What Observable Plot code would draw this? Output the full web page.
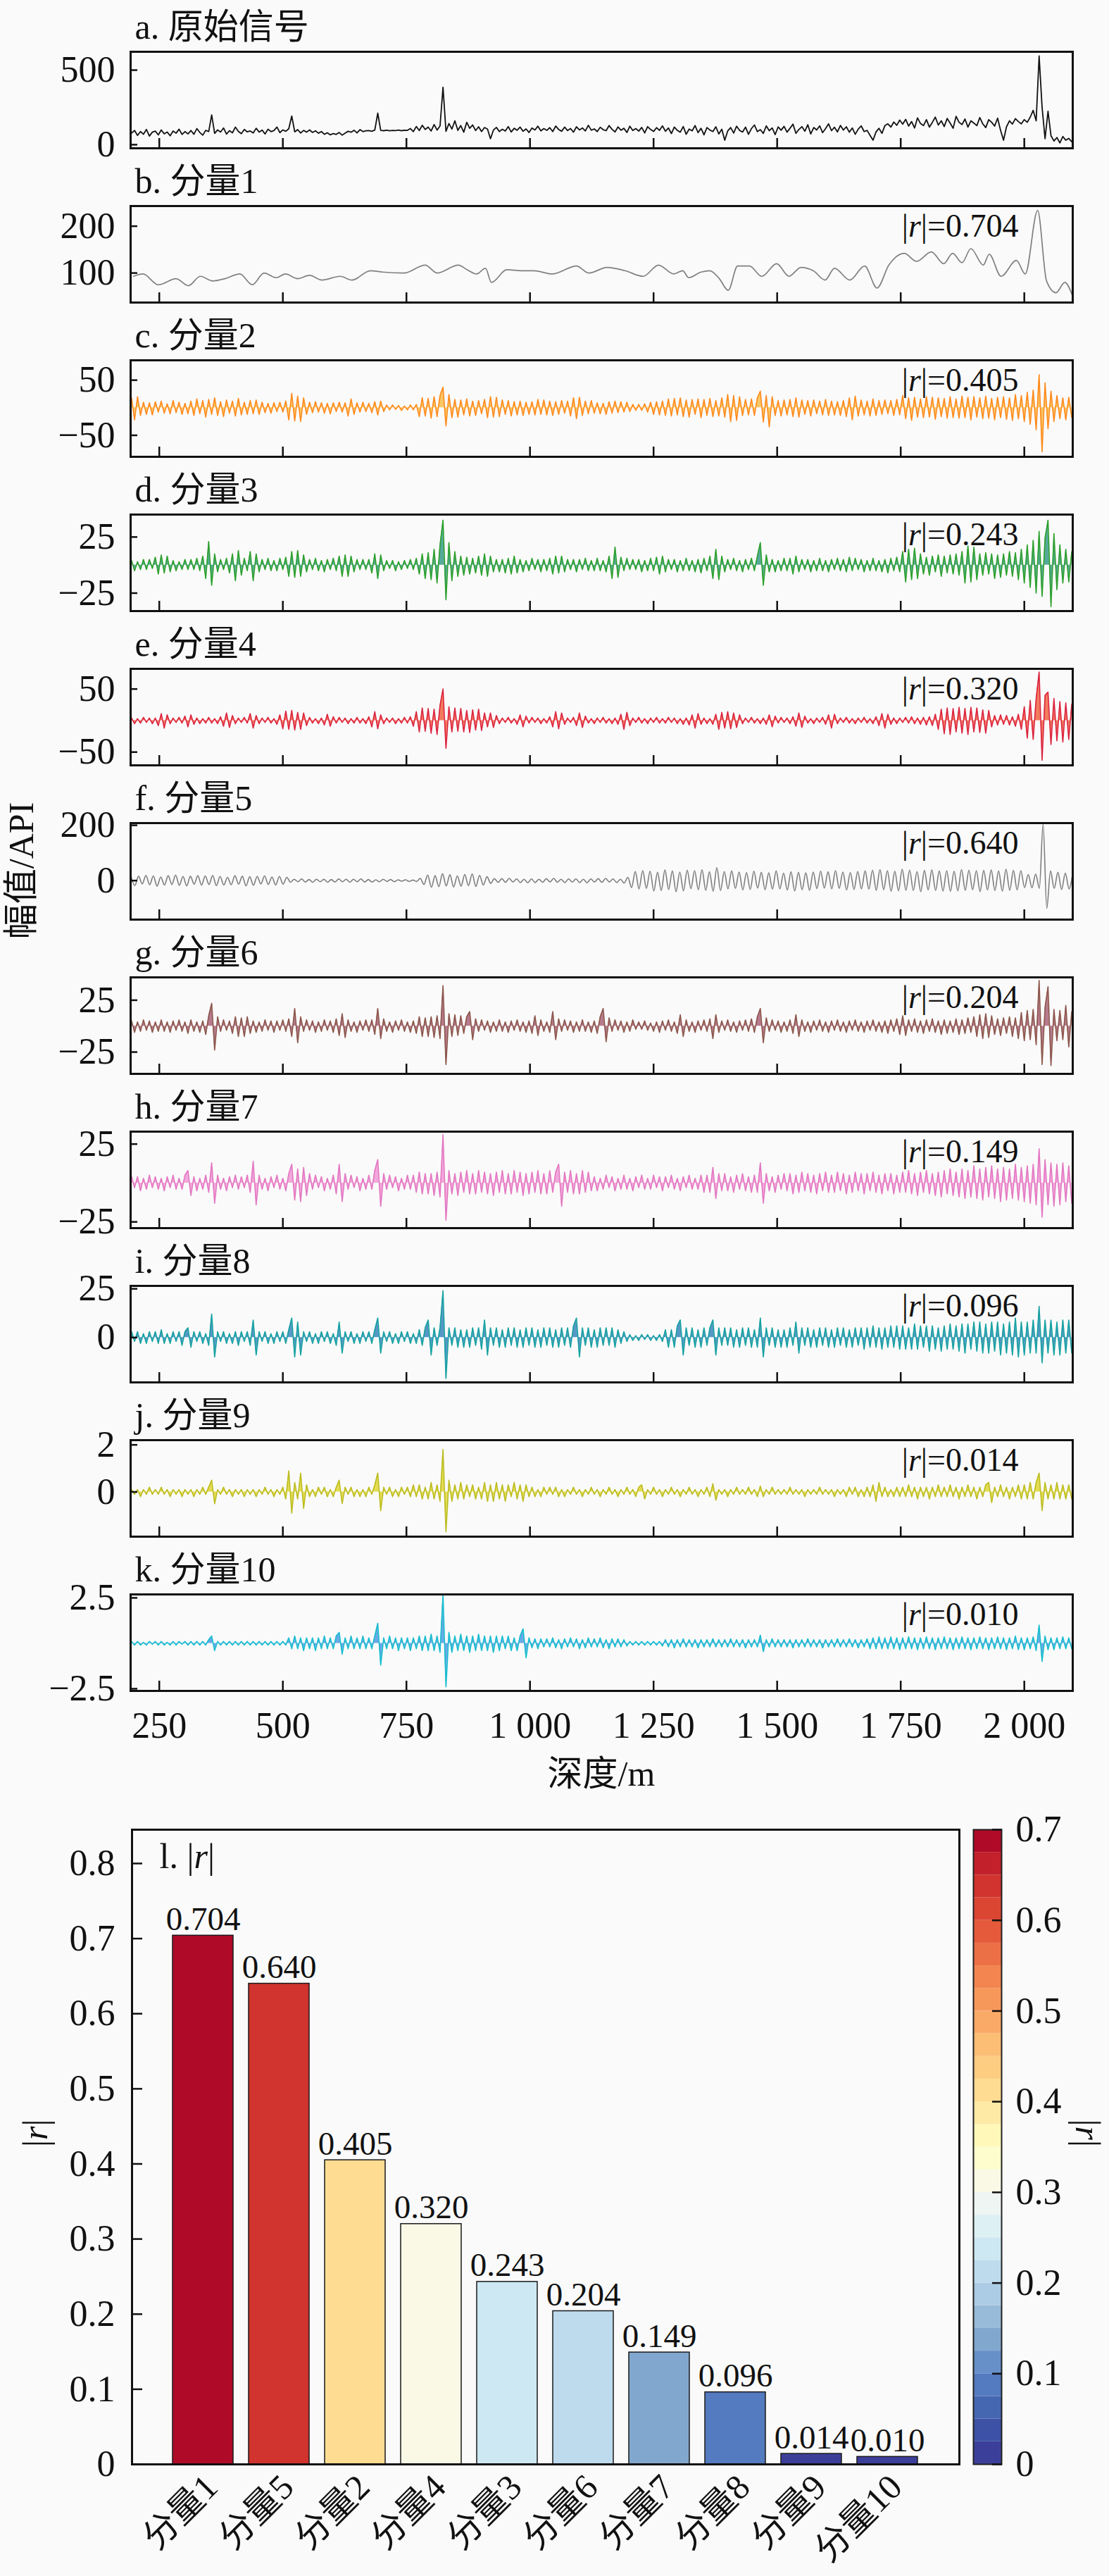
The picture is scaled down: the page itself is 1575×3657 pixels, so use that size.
<!DOCTYPE html>
<html><head><meta charset="utf-8">
<script src="https://cdn.jsdelivr.net/npm/d3@7"></script>
<script src="https://cdn.jsdelivr.net/npm/@observablehq/plot@0.6"></script>
<style>
html,body{margin:0;padding:0;background:#fafafa;}
#root{position:relative;width:1575px;height:3657px;overflow:hidden;font-family:'Liberation Serif','Times New Roman','Noto Sans CJK SC',serif;color:#111;}
#root svg{position:absolute;left:0;overflow:visible;}
.lbl{position:absolute;white-space:nowrap;font-size:50px;line-height:1;}
</style>
</head><body><div id="root"></div>
<script>
// ---------- depth axis ----------
const depthDomain = [192, 2098];
const depthTicks = [250, 500, 750, 1000, 1250, 1500, 1750, 2000];
const depthTickLabels = ["250", "500", "750", "1 000", "1 250", "1 500", "1 750", "2 000"];
// regular sampling grid of the dense traces (m)
const gridStart = 194, gridStep = 6;
// sampling grid of component 5 (m)
const fGridStart = 193, fGridStep = 7.5;

// ---------- panel meta ----------
const panelTitles = ["a. 原始信号","b. 分量1","c. 分量2","d. 分量3","e. 分量4","f. 分量5","g. 分量6","h. 分量7","i. 分量8","j. 分量9","k. 分量10"];
const panelR = [null,"0.704","0.405","0.243","0.320","0.640","0.204","0.149","0.096","0.014","0.010"];
const panelDomains = [[-24,623],[37,243],[-89,86],[-41,45],[-71,82],[-141,208],[-46,47],[-29,33],[-23,26.5],[-1.9,2.2],[-2.62,2.69]];
const panelTicks = [[0,500],[100,200],[-50,50],[-25,25],[-50,50],[0,200],[-25,25],[-25,25],[0,25],[0,2],[-2.5,2.5]];
const panelColors = ["#111111","#808080","#ff8a1c","#2ca02c","#dc2440","#7d7d7d","#8c564b","#e377c2","#17a2a2","#bcbd22","#17becf"];
const panelFills  = [null,null,"#f7b733","#1f8f7a","#f0502a",null,"#a0506a","#f08ccf","#1f77b4","#dcd21a","#3a8ee0"];

// ---------- a. original signal (grid) ----------
const sigA = [78,95,62,88,70,102,58,84,91,66,99,73,85,60,92,77,104,69,88,72,
95,70,108,82,64,96,88,200,76,99,85,112,71,94,80,118,89,74,102,86,
92,79,110,85,98,72,104,88,95,118,81,99,90,107,192,86,101,78,96,84,
99,82,93,77,88,70,80,66,75,69,82,64,78,90,84,97,79,101,88,93,
95,90,98,211,96,94,97,93,96,95,98,94,97,96,108,88,122,95,130,102,
118,92,135,98,126,385,90,142,105,160,96,128,84,150,110,132,95,120,88,115,
105,40,98,116,88,104,92,121,85,110,97,118,90,106,82,112,99,124,93,108,
96,114,88,125,102,90,118,95,108,84,120,99,112,92,130,97,106,88,117,101,
94,128,103,86,119,97,110,82,124,95,108,91,116,79,121,102,89,114,96,126,
90,112,75,118,96,84,122,70,105,93,128,81,110,66,115,98,88,120,72,104,
30,92,115,78,124,96,85,118,70,108,132,88,101,76,126,94,112,68,119,97,
123,84,110,138,76,102,121,90,134,72,115,99,126,81,108,140,94,117,86,129,
98,120,84,112,70,104,126,88,96,62,30,85,110,76,128,140,118,152,130,165,
138,170,125,155,112,180,142,128,168,118,150,185,132,160,122,176,145,110,190,150,
135,172,118,160,145,128,182,140,115,168,150,125,178,96,30,120,160,138,175,155,
140,168,150,185,230,160,595,250,40,224,60,25,48,12,55,30,42,20];

// ---------- b. component 1 (extrema) ----------
const comp1Depth = [198,217,248,284,309,333,358,383,413,438,462,487,505,530,554,579,616,640,677,702,745,788,812,855,873,892,910,922,953,984,1008,1045,1094,1119,1156,1192,1229,1260,1291,1309,1321,1346,1364,1383,1401,1420,1444,1469,1499,1524,1548,1573,1597,1616,1647,1677,1702,1726,1757,1782,1812,1837,1855,1874,1892,1917,1929,1953,1984,2002,2027,2045,2064,2082,2098];
const comp1Value = [93,98,75,88,73,93,83,88,98,75,100,90,98,88,95,85,93,85,105,102,100,117,100,117,107,98,110,80,107,105,105,98,115,100,112,105,93,117,98,105,90,102,105,88,63,115,115,93,120,93,112,105,85,110,85,115,68,117,142,125,145,120,142,122,152,117,140,93,127,98,234,83,58,80,50];

// ---------- c. component 2 ----------
const comp2 = [18,-22,20,-14,10,-12,9,-13,11,-8,12,-10,7,-11,13,-9,10,-12,8,-11,
12,-14,16,-11,13,-17,15,-12,18,-14,11,-16,14,-10,12,-15,17,-13,10,-12,
13,-11,14,-12,10,-9,8,-10,9,-7,10,-8,12,-22,26,-24,21,-25,18,-12,
10,-9,11,-8,9,-10,8,-11,9,-7,10,-8,9,-15,16,-12,9,-8,10,-7,
8,-9,11,-13,12,-7,5,-4,5,-3,4,-5,3,-4,5,-4,6,-16,18,-15,
17,-19,20,-16,22,37,-33,24,-18,15,-17,14,-13,16,-15,12,-14,13,-11,15,
-18,20,-17,19,-16,14,-12,13,-15,11,-13,12,-14,10,-12,11,-13,15,-12,14,
-13,12,-14,11,-12,13,-10,12,-15,18,-20,19,-14,12,-11,13,-10,9,-11,8,
-12,11,-10,12,-9,11,-8,10,-7,6,-5,6,-5,7,-8,10,-12,11,-13,12,
-14,16,-15,17,-13,18,-16,14,-17,15,-12,16,-18,15,-14,17,-16,13,-15,18,
-17,24,-25,22,-23,20,-14,15,-13,16,-14,18,30,-26,22,-35,20,-14,13,-15,
14,-13,15,-16,18,-17,14,-12,13,-15,14,-11,12,-13,15,-14,12,-13,11,-14,
13,-16,18,-22,21,-15,14,-13,12,-15,16,-14,13,-12,14,-11,13,-14,15,-13,
22,-20,18,-23,19,-17,16,-18,20,-17,19,-21,18,-16,17,-19,20,-18,16,-19,
21,-18,19,-22,20,-17,18,-20,21,-19,17,-22,19,-18,20,-21,18,-23,24,-20,
22,-25,28,-30,32,-40,60,-80,45,-38,30,-25,22,-20,18,-22,19,-18];

// ---------- d. component 3 ----------
const comp3 = [4,-5,3,-4,5,-4,5,-3,7,-8,9,-7,8,-6,4,-5,3,-4,5,-4,
5,-4,6,-5,8,-12,21,-18,10,-6,5,-4,6,-7,10,-14,13,-9,6,-5,
12,-14,10,-6,5,-4,6,-5,4,-5,6,-4,7,-10,12,-11,13,-10,9,-6,
5,-4,6,-5,4,-6,5,-4,6,-5,8,-10,9,-10,8,-6,5,-4,5,-4,
5,-7,10,-12,9,-5,4,-3,4,-5,3,-4,4,-3,5,-4,6,-8,10,-12,
11,-13,14,-16,18,40,-31,20,-14,12,-10,8,-9,7,-8,6,-7,8,-9,10,
-10,8,-6,5,-6,5,-7,6,-8,8,-7,5,-6,4,-5,6,-4,5,-6,5,
-5,6,-8,8,-7,8,-6,5,-4,5,-6,5,-4,6,-5,4,-5,6,-5,4,
-6,8,-12,16,-11,7,-5,6,-4,5,-4,5,-6,4,-5,6,-5,7,-8,8,
-6,5,-4,5,-6,4,-5,6,-5,4,-6,5,-7,6,-5,8,-12,14,-13,8,
-6,5,-4,6,-5,4,-6,5,-4,6,-5,8,20,-18,9,-6,5,-6,4,-5,
6,-5,6,-8,8,-6,5,-4,5,-6,4,-5,6,-5,4,-6,5,-4,6,-5,
5,-6,7,-5,6,-4,5,-6,4,-5,6,-5,4,-6,5,-7,6,-5,7,-6,
12,-15,14,-13,15,-12,10,-8,7,-9,8,-6,9,-10,8,-7,9,-8,10,-9,
12,-16,17,-15,16,-13,10,-9,11,-8,10,-12,9,-11,10,-9,12,-10,11,-13,
14,-16,18,-20,22,-25,30,-28,24,40,-37,28,-22,18,-16,14,-15,12];

// ---------- e. component 4 ----------
const comp4 = [4,-5,3,-4,5,-3,4,-5,4,-8,11,-12,9,-5,4,-3,5,-4,7,-10,
9,-6,4,-5,3,-4,5,-4,3,-5,6,-9,12,-11,8,-5,4,-3,5,-4,
11,-12,8,-5,4,-3,5,-4,3,-6,9,-13,15,-14,16,-15,13,-14,12,-8,
5,-4,3,-5,4,-7,10,-9,6,-4,5,-3,4,-5,3,-4,5,-4,3,-5,
6,-10,14,-13,9,-5,4,-3,4,-5,3,-4,5,-4,6,-9,14,-18,20,-17,
19,-20,18,-22,24,50,-44,22,-18,20,-17,19,-18,16,-19,17,-15,18,-16,12,
-10,12,-11,8,-5,4,-3,5,-4,3,-6,9,-10,7,-4,5,-3,4,-5,3,
-4,6,-10,14,-13,12,-6,4,-3,5,-8,12,-11,7,-4,3,-5,4,-3,5,
-4,3,-5,4,-6,10,-14,13,-8,4,-3,5,-4,3,-5,4,-3,5,-4,3,
-4,5,-3,4,-5,3,-6,4,-7,9,-12,11,-6,4,-5,3,-6,10,-14,13,
-12,14,-13,12,-11,9,-5,4,-3,5,-4,3,-5,4,-6,9,-10,7,-4,5,
-3,4,-5,6,-9,12,-11,7,-4,3,-5,4,-3,5,-6,9,-12,10,-5,4,
-3,5,-4,3,-5,4,-3,5,-4,3,-5,6,-8,11,-12,10,-6,4,-5,4,
-3,5,-4,6,-5,4,-6,5,-7,6,-8,10,-14,18,-21,20,-22,19,-18,21,
-20,19,-22,21,-18,20,-19,17,-20,16,-10,8,-7,9,-6,8,-7,6,-9,10,
-14,22,-28,32,-30,35,77,-63,40,45,-38,35,-32,30,-34,28,-30,26];

// ---------- f. component 5 (f grid) ----------
const comp5 = [14,-18,16,-12,19,-15,17,-20,13,-16,18,-14,20,-17,15,-19,16,-13,18,-16,
17,-14,19,-18,15,-16,12,-15,18,-13,16,-19,14,-17,15,-12,17,-14,13,-16,
15,-13,12,-6,5,-4,6,-5,4,-6,5,-4,5,-6,4,-5,6,-4,5,-6,
5,-4,6,-5,4,-5,3,-4,5,-3,4,-4,3,-2,3,-3,2,-3,8,-14,
20,-24,18,-22,25,-19,21,-23,17,-20,22,-18,24,-21,19,-16,14,-10,7,-6,
7,-6,8,-5,6,-7,5,-8,6,-7,5,-6,7,-5,8,-6,5,-7,6,-5,
6,-7,5,-8,6,-5,7,-6,8,-5,6,-7,5,-9,12,-25,33,-30,36,-28,
34,-38,30,-36,39,-32,35,-40,31,-37,38,-29,36,-33,40,-35,32,-38,47,-36,
33,-30,35,-28,31,-34,29,-32,34,-27,30,-33,28,-31,35,-30,27,-34,32,-38,
30,-33,28,-35,31,-29,34,-27,32,-30,36,-28,31,-34,29,-32,33,-30,35,-31,
38,-35,40,-33,36,-39,34,-37,41,-35,38,-36,33,-40,37,-34,39,-36,35,-38,
36,-39,34,-37,40,-35,38,-33,36,-40,37,-34,39,-36,35,-38,41,-35,37,-34,
36,-25,22,-26,24,-28,205,-100,35,-28,30,-32,27,-30,28];

// ---------- g. component 6 ----------
const comp6 = [5,-6,4,-5,6,-4,5,-6,4,-5,6,-5,4,-6,5,-4,6,-5,4,-7,
6,-5,4,-6,5,-8,10,22,-23,9,-5,6,-4,5,-7,9,-10,8,-10,9,
-7,5,-6,4,-5,6,-4,5,-6,5,-4,6,-5,7,-10,17,-16,9,-5,6,
-4,5,-6,4,-5,6,-4,5,-6,7,-9,12,-11,6,-5,4,-6,5,-4,6,
-5,6,-8,17,-12,7,-5,4,-6,5,-4,6,-5,4,-6,5,-7,9,-10,8,
-10,9,-11,10,-12,39,-37,12,-10,11,-9,10,-7,9,14,-13,7,-5,6,-4,
5,-6,4,-5,6,-5,4,-6,5,-4,6,-5,4,-6,5,-7,10,-9,6,-5,
4,-6,14,-13,7,-5,6,-4,5,-6,4,-5,6,-5,4,-6,5,-7,9,17,
-15,8,-5,6,-4,5,-6,4,-5,6,-3,4,-3,5,-4,3,-5,4,-6,5,
-4,6,-5,4,-7,11,-10,6,-5,4,-6,5,-4,6,-5,7,-12,11,-6,5,
-4,6,-5,4,-6,5,-4,6,-5,7,-6,9,17,-16,8,-5,6,-4,5,-6,
4,-5,6,-7,11,-10,6,-5,4,-6,5,-4,6,-5,4,-6,5,-4,6,-5,
4,-6,5,-4,6,-5,4,-6,5,-4,6,-5,4,-6,5,-7,6,-5,7,-8,
10,-9,6,-5,7,-6,5,-7,6,-5,7,-6,5,-8,6,-7,5,-6,7,-8,
6,-7,8,-6,9,-10,11,-12,12,-11,10,-8,7,-9,8,-7,9,-10,8,-12,
13,-14,15,-13,16,-18,44,-37,18,38,-38,16,-14,15,-13,20,-20,14];

// ---------- h. component 7 ----------
const comp7 = [4,-3,4,-5,3,-4,5,-3,4,-4,3,-5,4,-3,5,-4,3,-4,5,8,
-8,4,-5,3,-4,5,-6,13,-13,5,-4,3,-5,4,-3,5,-4,4,-3,5,
-6,14,-14,5,-4,3,-5,4,-3,5,-4,3,-5,6,12,-11,9,-12,10,-8,
6,-4,5,-3,4,-5,3,-4,5,-7,12,-12,6,-4,5,-3,4,-5,3,-4,
5,-4,8,15,-15,6,-4,5,-3,4,-5,3,-4,5,-4,5,-6,7,-7,6,
-7,6,-8,7,-9,31,-24,8,-7,6,-8,7,-6,8,-7,6,-7,8,-6,7,
-7,6,-8,7,-6,8,-7,6,-7,8,-6,7,-8,6,-7,7,-6,8,-7,6,
-7,8,-6,7,12,-15,7,-6,8,-7,6,-7,8,-6,7,-5,4,-5,3,-4,
5,-3,4,-5,3,-4,5,-4,3,-5,4,-3,5,-4,3,-4,5,-3,4,-5,
4,-3,5,-4,3,-5,4,-3,5,-4,3,-4,5,-6,5,-6,10,-10,6,-5,
6,-5,4,-6,5,-4,6,-5,4,-6,5,-6,13,-13,6,-5,4,-6,5,-4,
6,-5,6,-7,5,-6,7,-5,6,-6,5,-7,6,-5,7,-6,5,-6,7,-5,
6,-7,5,-6,7,-5,6,-7,6,-5,7,-6,5,-7,6,-5,6,-7,5,-6,
7,-6,8,-7,6,-8,7,-6,8,-7,6,-8,7,-9,8,-7,9,-8,7,-9,
9,-10,8,-9,11,-10,9,-11,10,-9,11,-10,9,-12,10,-11,9,-10,12,-11,
10,-12,11,-13,12,-14,22,-22,15,-14,13,-15,12,-14,13,-12,11,-13];

// ---------- i. component 8 ----------
const comp8 = [3,-2,3,-3,2,-3,3,-2,3,-3,4,-3,2,-3,3,-2,3,-4,3,5,
-5,3,-2,3,-3,2,-4,12,-10,3,-2,3,-3,2,-3,3,-4,3,-2,3,
-4,9,-9,3,-2,3,-3,2,-3,3,-2,3,-3,4,10,-10,8,-9,3,-2,
3,-3,2,-3,3,-2,3,-3,2,-4,8,-8,3,-2,3,-3,2,-3,3,-2,
3,-3,4,10,-8,3,-2,3,-3,2,-3,3,-2,3,-3,2,-3,4,-4,5,
9,-9,5,-4,5,24,-21,5,-4,5,-5,4,-5,4,-5,5,-4,5,-6,9,
-9,5,-4,5,-5,4,-5,5,-4,5,-5,4,-5,5,-4,5,-5,4,-5,5,
-4,5,-5,4,-5,5,-4,5,-5,6,10,-10,5,-4,5,-5,4,-5,5,-4,
5,-4,5,-5,4,-3,3,-2,1.5,-1.5,1,-1.5,1.5,-1,1.5,-1.5,1,-1.5,1.5,-2,
4,-5,4,-5,6,9,-9,5,-4,5,-5,4,-5,5,-4,5,9,-9,5,-4,
5,-4,5,-5,4,-5,5,-4,5,-5,4,-5,10,-10,5,-4,5,-5,4,-5,
4,-5,5,-4,8,-8,5,-4,5,-5,4,-5,5,-4,5,-5,4,-5,5,-4,
5,-5,4,-5,5,-4,5,-6,5,-5,6,-5,5,-6,5,-5,6,-5,6,-6,
6,-6,5,-6,7,-6,6,-5,6,-7,6,-6,5,-7,6,-6,7,-6,6,-7,
7,-8,7,-6,8,-7,8,-8,7,-8,8,-7,8,-9,7,-8,8,-9,10,-10,
8,-9,8,-8,9,-8,16,-13,9,-8,9,-9,8,-9,9,-8,9,-8];

// ---------- j. component 9 ----------
const comp9 = [0.1,-0.1,0.1,-0.2,0.1,-0.1,0.2,-0.1,0.1,-0.1,0.2,-0.1,0.1,-0.2,0.1,-0.1,0.1,-0.2,0.1,-0.1,
0.1,-0.2,0.1,-0.1,0.2,-0.1,0.2,0.5,-0.5,0.1,-0.1,0.2,-0.1,0.1,-0.2,0.1,-0.1,0.1,-0.2,0.1,
-0.1,0.1,-0.2,0.1,-0.1,0.2,-0.1,0.1,-0.2,0.1,-0.1,0.2,-0.3,0.9,-0.9,0.4,-0.3,0.8,-0.7,0.3,
-0.2,0.1,-0.2,0.2,-0.1,0.2,-0.2,0.1,-0.2,0.2,0.5,-0.5,0.2,-0.1,0.2,-0.2,0.1,-0.2,0.1,-0.2,
0.2,-0.1,0.3,0.8,-0.8,0.2,-0.1,0.2,-0.2,0.1,-0.2,0.2,-0.1,0.2,-0.2,0.3,-0.2,0.3,-0.3,0.2,
-0.3,0.4,-0.3,0.3,-0.4,1.8,-1.7,0.5,-0.4,0.3,-0.3,0.4,-0.3,0.3,-0.2,0.3,-0.3,0.2,-0.3,0.4,
-0.4,0.3,-0.4,0.4,-0.3,0.3,-0.4,0.3,-0.2,0.4,-0.3,0.3,-0.4,0.3,-0.2,0.2,-0.2,0.1,-0.2,0.2,
-0.1,0.2,-0.1,0.2,-0.2,0.1,-0.2,0.1,-0.1,0.2,-0.1,0.1,-0.2,0.1,-0.1,0.2,-0.1,0.1,-0.2,0.1,
-0.1,0.2,-0.1,0.1,-0.2,0.1,-0.1,0.2,-0.1,0.1,-0.2,0.2,0.3,-0.3,0.1,-0.1,0.2,-0.1,0.1,-0.2,
0.1,-0.1,0.2,-0.1,0.1,-0.2,0.1,-0.1,0.2,-0.1,0.1,-0.2,0.1,-0.1,0.2,-0.2,0.35,-0.35,0.1,-0.1,
0.1,-0.2,0.1,-0.1,0.2,-0.1,0.1,-0.1,0.2,-0.1,0.1,-0.2,0.25,-0.2,0.1,-0.1,0.2,-0.1,0.1,-0.1,
0.1,-0.1,0.2,-0.1,0.1,-0.1,0.1,-0.2,0.1,-0.1,0.1,-0.1,0.2,-0.1,0.1,-0.1,0.1,-0.2,0.1,-0.1,
0.1,-0.2,0.2,-0.1,0.2,-0.2,0.1,-0.2,0.2,-0.2,0.3,-0.4,0.4,-0.2,0.2,-0.2,0.1,-0.2,0.2,-0.2,
0.2,-0.2,0.3,-0.2,0.2,-0.3,0.2,-0.2,0.2,-0.3,0.2,-0.2,0.3,-0.2,0.2,-0.2,0.3,-0.2,0.2,-0.3,
0.2,-0.2,0.3,-0.2,0.2,-0.3,0.2,-0.2,0.3,0.4,-0.45,0.2,-0.2,0.3,-0.2,0.2,-0.3,0.2,-0.2,0.3,
-0.3,0.3,-0.3,0.4,-0.3,0.4,0.8,-0.8,0.4,-0.3,0.3,-0.3,0.4,-0.3,0.3,-0.3,0.3,-0.3];

// ---------- k. component 10 ----------
const comp10 = [0.1,-0.1,0.1,-0.1,0.05,-0.1,0.1,-0.05,0.1,-0.1,0.1,-0.1,0.05,-0.1,0.1,-0.1,0.1,-0.05,0.1,-0.1,
0.1,-0.1,0.1,-0.1,0.1,-0.1,0.2,0.4,-0.4,0.1,-0.1,0.1,-0.1,0.1,-0.1,0.1,-0.1,0.1,-0.1,0.1,
-0.1,0.1,-0.1,0.1,-0.1,0.1,-0.1,0.1,-0.1,0.1,-0.1,0.1,-0.1,0.3,-0.3,0.4,-0.3,0.3,-0.4,0.3,
-0.3,0.3,-0.4,0.3,-0.3,0.4,-0.3,0.3,-0.3,0.4,0.6,-0.6,0.3,-0.3,0.4,-0.3,0.3,-0.3,0.4,-0.3,
0.3,-0.3,0.4,1.1,-1.2,0.3,-0.3,0.4,-0.3,0.3,-0.4,0.3,-0.3,0.3,-0.4,0.3,-0.3,0.4,-0.4,0.4,
-0.4,0.5,-0.4,0.4,-0.5,2.7,-2.4,0.6,-0.5,0.4,-0.4,0.5,-0.4,0.4,-0.5,0.4,-0.4,0.5,-0.4,0.4,
-0.4,0.4,-0.5,0.4,-0.4,0.4,-0.3,0.4,-0.4,0.3,-0.4,0.4,0.8,-0.8,0.3,-0.25,0.25,-0.3,0.25,-0.2,
0.25,-0.2,0.3,-0.25,0.2,-0.3,0.25,-0.2,0.3,-0.2,0.25,-0.3,0.2,-0.25,0.3,-0.2,0.25,-0.2,0.3,-0.25,
0.2,-0.3,0.25,-0.2,0.25,-0.2,0.2,-0.15,0.1,-0.1,0.1,-0.1,0.1,-0.1,0.1,-0.1,0.1,-0.1,0.1,-0.15,
0.2,-0.2,0.2,-0.25,0.2,-0.2,0.25,-0.2,0.2,-0.2,0.2,-0.25,0.2,-0.2,0.2,-0.2,0.25,-0.2,0.2,-0.2,
0.2,-0.2,0.25,-0.2,0.2,-0.2,0.2,-0.25,0.2,-0.2,0.2,-0.2,0.45,-0.45,0.2,-0.2,0.25,-0.2,0.2,-0.2,
0.2,-0.2,0.2,-0.25,0.2,-0.2,0.2,-0.2,0.25,-0.2,0.2,-0.2,0.2,-0.25,0.2,-0.2,0.2,-0.2,0.25,-0.2,
0.2,-0.2,0.25,-0.2,0.2,-0.25,0.2,-0.2,0.25,-0.3,0.3,-0.3,0.35,-0.3,0.3,-0.3,0.35,-0.3,0.3,-0.35,
0.3,-0.3,0.35,-0.3,0.3,-0.35,0.3,-0.3,0.35,-0.3,0.3,-0.35,0.3,-0.3,0.35,-0.3,0.3,-0.35,0.3,-0.3,
0.35,-0.3,0.3,-0.35,0.3,-0.3,0.35,-0.3,0.3,-0.35,0.3,-0.3,0.35,-0.3,0.3,-0.35,0.3,-0.3,0.4,-0.35,
0.3,-0.35,0.3,-0.3,0.35,-0.4,1.0,-1.0,0.4,-0.35,0.3,-0.35,0.3,-0.3,0.35,-0.3,0.3,-0.3];

// ---------- l. correlation bar chart ----------
const barNames = ["分量1","分量5","分量2","分量4","分量3","分量6","分量7","分量8","分量9","分量10"];
const barR = [0.704,0.640,0.405,0.320,0.243,0.204,0.149,0.096,0.014,0.010];
const barTicks = [0,0.1,0.2,0.3,0.4,0.5,0.6,0.7,0.8];
const cbarTicks = [0,0.1,0.2,0.3,0.4,0.5,0.6,0.7];
const cbarMax = 0.7, cbarBins = 28;
// colour-map stops
const cmapStops = [0, 0.05, 0.1, 0.15, 0.2, 0.25, 0.3, 0.35, 0.4, 0.45, 0.5, 0.55, 0.6, 0.65, 0.7];
const cmapColors = ["#3b3594","#3d5caa","#5b84c6","#8db2d2","#b6d5eb","#d5eef4","#f7f7f2","#ffffc2","#fee39a","#fdc67a","#f9a161","#f07b4a","#e04f35","#cc2a2c","#a50026"];

// ================= drawing =================
const FONT = "'Liberation Serif','Times New Roman','Noto Sans CJK SC',serif";
const root = document.getElementById("root");
const baseStyle = {fontFamily: FONT, fontSize: "52px", background: "transparent", color: "#111", overflow: "visible"};
const numFmt = d => (d < 0 ? "\u2212" : "") + String(Math.abs(+d.toFixed(3)));

const onGrid = (vals, start, step) => vals.map((v, i) => ({depth: start + i * step, value: v}));
const series = [
  onGrid(sigA, gridStart, gridStep),
  comp1Depth.map((d, i) => ({depth: d, value: comp1Value[i]})),
  onGrid(comp2, gridStart, gridStep),
  onGrid(comp3, gridStart, gridStep),
  onGrid(comp4, gridStart, gridStep),
  onGrid(comp5, fGridStart, fGridStep),
  onGrid(comp6, gridStart, gridStep),
  onGrid(comp7, gridStart, gridStep),
  onGrid(comp8, gridStart, gridStep),
  onGrid(comp9, gridStart, gridStep),
  onGrid(comp10, gridStart, gridStep)
];
const curves = ["linear","monotone-x","linear","linear","linear","monotone-x","linear","linear","linear","linear","linear"];
const widths = [1.8,1.7,1.6,1.6,1.6,1.6,1.6,1.6,1.6,1.6,1.6];

function italicR(svg) {
  svg.querySelectorAll("text, tspan").forEach(el => {
    if (el.childNodes.length !== 1 || el.firstChild.nodeType !== 3) return;
    const s = el.textContent, k = s.indexOf("|r|");
    if (k < 0) return;
    el.textContent = "";
    el.appendChild(document.createTextNode(s.slice(0, k + 1)));
    const t = document.createElementNS("http://www.w3.org/2000/svg", "tspan");
    t.setAttribute("font-style", "italic");
    t.textContent = "r";
    el.appendChild(t);
    el.appendChild(document.createTextNode(s.slice(k + 2)));
  });
}

function place(svg, top, left = 0) {
  svg.style.top = top + "px";
  svg.style.left = left + "px";
  root.appendChild(svg);
  italicR(svg);
}

const pitch = 219;
panelTitles.forEach((title, p) => {
  const last = p === panelTitles.length - 1;
  const H = last ? 360 : pitch;
  const marks = [];
  if (panelFills[p]) marks.push(Plot.areaY(series[p], {x: "depth", y: "value", fill: panelFills[p], fillOpacity: 0.75, clip: true}));
  marks.push(
    Plot.line(series[p], {x: "depth", y: "value", stroke: panelColors[p], strokeWidth: widths[p], curve: curves[p], clip: true}),
    Plot.frame({stroke: "#111", strokeWidth: 3}),
    Plot.axisX({ticks: depthTicks, tickSize: -14, strokeWidth: 2.5, tickPadding: 44, label: null,
      tickFormat: last ? (d => depthTickLabels[depthTicks.indexOf(d)]) : (() => null)}),
    Plot.axisY({ticks: panelTicks[p], tickSize: -10, strokeWidth: 2.5, tickPadding: 32, label: null, tickFormat: numFmt}),
    Plot.text([title], {text: d => d, frameAnchor: "top-left", dx: 6, dy: -35, textAnchor: "start", lineAnchor: "middle", fontSize: 50})
  );
  if (panelR[p]) marks.push(Plot.text([`|r|=${panelR[p]}`], {text: d => d, frameAnchor: "top-right", dx: -77, dy: 29, textAnchor: "end", lineAnchor: "middle", fontSize: 46}));
  const svg = Plot.plot({
    width: 1575, height: H, marginTop: 73, marginBottom: H - 73 - 137, marginLeft: 185, marginRight: 52,
    style: baseStyle,
    x: {domain: depthDomain},
    y: {domain: panelDomains[p]},
    marks
  });
  place(svg, p * pitch);
});

// axis captions of the signal stack
const yCap = document.createElement("div");
yCap.className = "lbl";
yCap.textContent = "幅值/API";
yCap.style.cssText += "left:30px;top:1236px;transform:translate(-50%,-50%) rotate(-90deg);font-size:50px;";
root.appendChild(yCap);
const xCap = document.createElement("div");
xCap.className = "lbl";
xCap.textContent = "深度/m";
xCap.style.cssText += "left:854px;top:2518px;transform:translate(-50%,-50%);";
root.appendChild(xCap);

// binned colour map shared by bars and colour bar
const cmap = d3.scaleLinear().domain(cmapStops).range(cmapColors).interpolate(d3.interpolateRgb).clamp(true);
const binW = cbarMax / cbarBins;
const binColor = v => {
  const b = Math.min(cbarBins - 1, Math.max(0, Math.floor(v / binW)));
  return cmap((b + 0.5) * binW);
};
const cbar = d3.range(cbarBins).map(b => ({lo: b * binW, hi: (b + 1) * binW, color: binColor((b + 0.5) * binW)}));
const barData = barNames.map((n, i) => ({name: n, r: barR[i], color: binColor(barR[i])}));

const barSvg = Plot.plot({
  width: 1575, height: 1117, marginTop: 57, marginBottom: 159, marginLeft: 187, marginRight: 213,
  style: baseStyle,
  x: {type: "band", domain: barNames, paddingInner: 0.2, paddingOuter: 0.49},
  y: {domain: [0, 0.845]},
  color: {type: "identity"},
  marks: [
    Plot.barY(barData, {x: "name", y: "r", fill: "color", stroke: "#1a1a1a", strokeWidth: 1.5}),
    Plot.text(barData, {x: "name", y: "r", text: d => d.r.toFixed(3), dy: -8, lineAnchor: "bottom", fontSize: 47}),
    Plot.frame({stroke: "#111", strokeWidth: 3}),
    Plot.axisY({ticks: barTicks, tickSize: -15, tickPadding: 39, strokeWidth: 2.5, label: null, tickFormat: numFmt}),
    Plot.axisX({tickSize: 0, tickRotate: -45, tickPadding: 24, dx: 12, fontSize: 50, label: null}),
    Plot.text(["|r|"], {text: d => d, frameAnchor: "left", dx: -137, rotate: -90, fontSize: 50}),
    Plot.text(["l. |r|"], {text: d => d, frameAnchor: "top-left", dx: 39, dy: 38, textAnchor: "start", lineAnchor: "middle", fontSize: 50})
  ]
});
place(barSvg, 2540);

const cbarSvg = Plot.plot({
  width: 193, height: 1117, marginTop: 57, marginBottom: 159, marginLeft: 0, marginRight: 153,
  style: baseStyle,
  y: {domain: [0, cbarMax]},
  color: {type: "identity"},
  marks: [
    Plot.rect(cbar, {y1: "lo", y2: "hi", fill: "color"}),
    Plot.frame({stroke: "#222", strokeWidth: 2}),
    Plot.axisY({anchor: "right", ticks: cbarTicks, tickSize: -14, tickPadding: 34, strokeWidth: 2.5, label: null, tickFormat: numFmt}),
    Plot.text(["|r|"], {text: d => d, frameAnchor: "right", dx: 121, rotate: 90, fontSize: 50})
  ]
});
place(cbarSvg, 2540, 1382);
</script>
</body></html>
